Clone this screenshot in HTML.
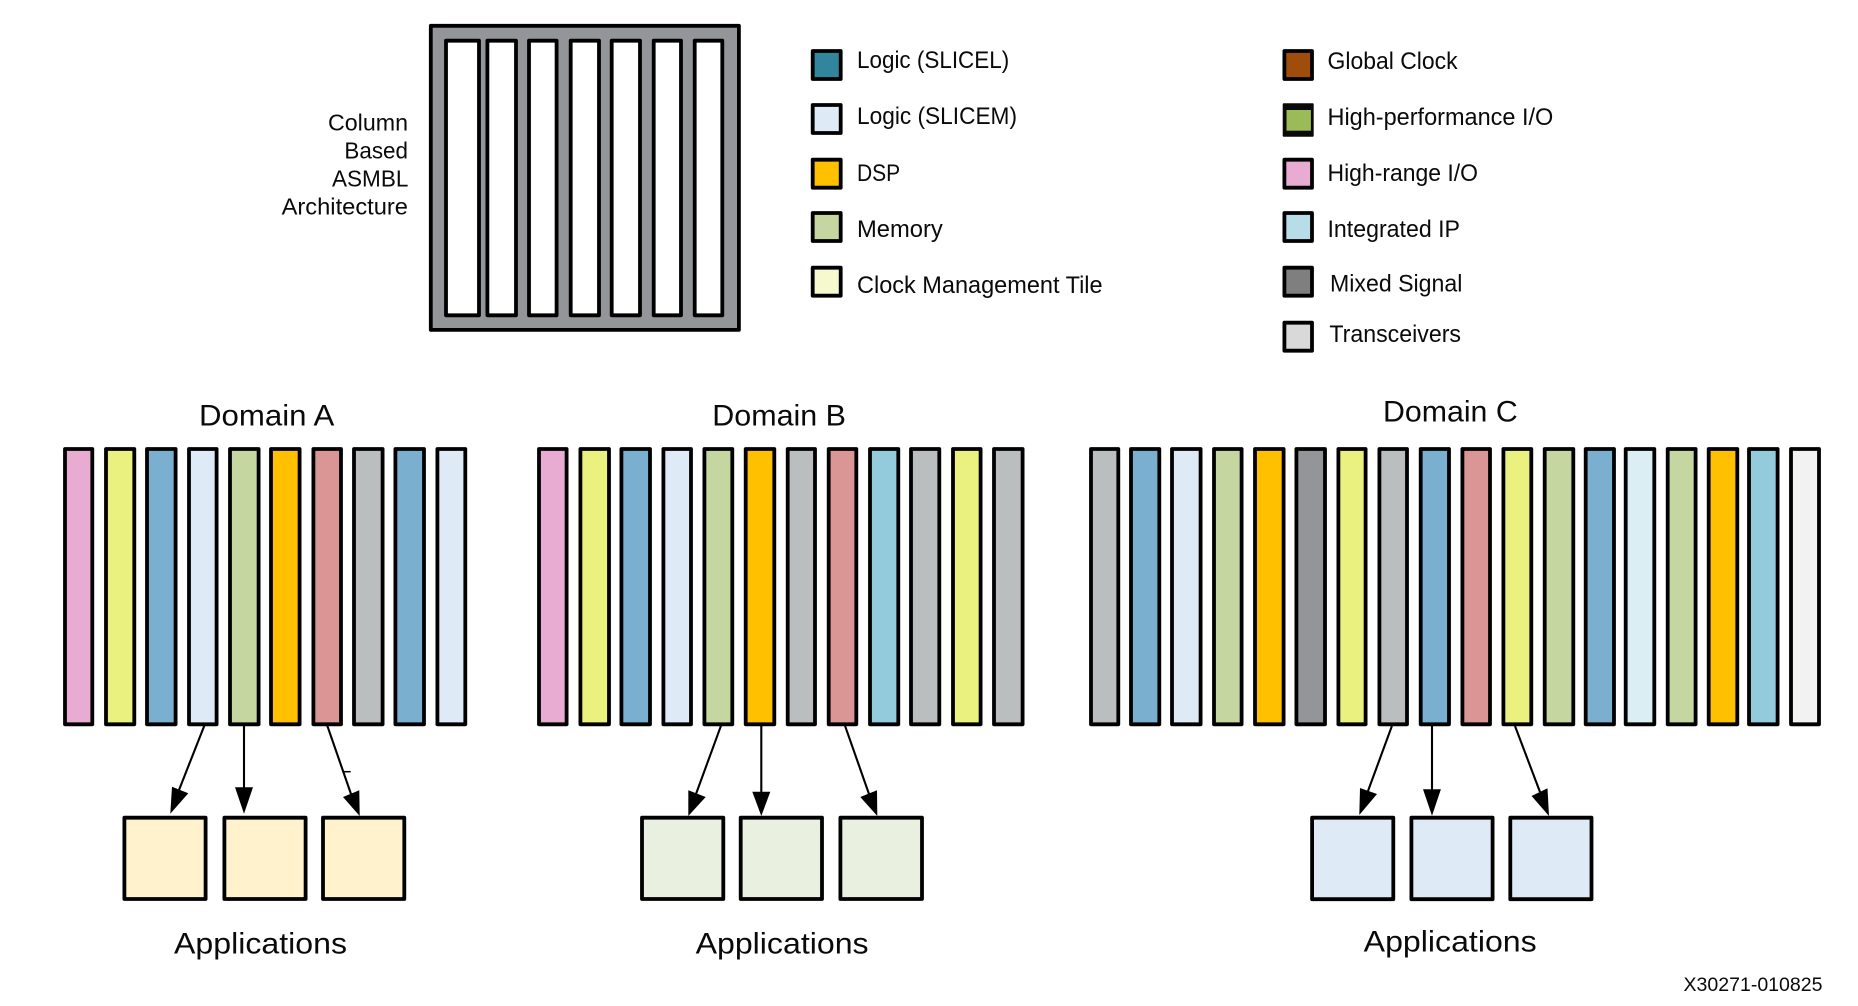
<!DOCTYPE html>
<html lang="en">
<head>
<meta charset="utf-8">
<title>Column Based ASMBL Architecture</title>
<style>
html,body{margin:0;padding:0;background:#fff;width:1858px;height:1006px;overflow:hidden}
svg{display:block}
text{font-family:"Liberation Sans",sans-serif;fill:#0a0a0a}
.b rect{stroke:#000;stroke-width:3.8;stroke-linejoin:round}
.l{stroke:#000;stroke-width:2.1;fill:none}
.t{font-size:24px}
.h{font-size:30px}
</style>
</head>
<body>
<svg width="1858" height="1006" viewBox="0 0 1858 1006" xmlns="http://www.w3.org/2000/svg">
<rect width="1858" height="1006" fill="#fff"/>

<!-- ASMBL block -->
<g class="b">
<rect x="430.8" y="25.8" width="308.1" height="304.1" fill="#939598" style="stroke-width:3.8"/>
<g fill="#fff">
<rect x="446" y="40.7" width="33" height="274.6"/>
<rect x="487.4" y="40.7" width="28.6" height="274.6"/>
<rect x="529" y="40.7" width="27.6" height="274.6"/>
<rect x="570.7" y="40.7" width="28.3" height="274.6"/>
<rect x="611.7" y="40.7" width="28.3" height="274.6"/>
<rect x="653.7" y="40.7" width="27.3" height="274.6"/>
<rect x="694.7" y="40.7" width="27.6" height="274.6"/>
</g>
</g>
<g class="t" style="font-size:23.5px">
<text x="328" y="130.7" textLength="80" lengthAdjust="spacingAndGlyphs">Column</text>
<text x="344.4" y="158.7" textLength="63.6" lengthAdjust="spacingAndGlyphs">Based</text>
<text x="332" y="186.7" textLength="76.4" lengthAdjust="spacingAndGlyphs">ASMBL</text>
<text x="281.6" y="214.7" textLength="126.4" lengthAdjust="spacingAndGlyphs">Architecture</text>
</g>

<!-- Legend left -->
<g class="b">
<rect x="812.7" y="51" width="28" height="28" fill="#31859C"/>
<rect x="812.7" y="105" width="28" height="28" fill="#DEEBF7"/>
<rect x="812.7" y="159.7" width="28" height="28" fill="#FFC000"/>
<rect x="812.7" y="213" width="28" height="28" fill="#C5D6A0"/>
<rect x="812.7" y="267.7" width="28" height="28" fill="#F6F8CE"/>
</g>
<g class="t">
<text x="857" y="68" textLength="152.2" lengthAdjust="spacingAndGlyphs">Logic (SLICEL)</text>
<text x="857" y="124" textLength="160" lengthAdjust="spacingAndGlyphs">Logic (SLICEM)</text>
<text x="857" y="181" textLength="43.2" lengthAdjust="spacingAndGlyphs">DSP</text>
<text x="857" y="237" textLength="85.8" lengthAdjust="spacingAndGlyphs">Memory</text>
<text x="857" y="293" textLength="245.6" lengthAdjust="spacingAndGlyphs">Clock Management Tile</text>
</g>

<!-- Legend right -->
<g class="b">
<rect x="1284.4" y="51" width="27.6" height="28" fill="#A04D0B"/>
<rect x="1284.4" y="159.7" width="27.6" height="28" fill="#E8ABD2"/>
<rect x="1284.4" y="213" width="27.6" height="28" fill="#B7DEE8"/>
<rect x="1284.4" y="267.7" width="27.6" height="28" fill="#7F7F7F"/>
<rect x="1284.4" y="322.7" width="27.6" height="28" fill="#D9D9D9"/>
</g>
<rect x="1282.7" y="103.3" width="31" height="33.4" rx="1" fill="#0a0a0a"/>
<rect x="1286.5" y="110" width="24.4" height="20.7" fill="#9BBB59"/>
<g class="t">
<text x="1327.5" y="69" textLength="130.1" lengthAdjust="spacingAndGlyphs">Global Clock</text>
<text x="1327.5" y="125" textLength="225.8" lengthAdjust="spacingAndGlyphs">High-performance I/O</text>
<text x="1327.5" y="181" textLength="150.5" lengthAdjust="spacingAndGlyphs">High-range I/O</text>
<text x="1327.5" y="236.8" textLength="132.5" lengthAdjust="spacingAndGlyphs">Integrated IP</text>
<text x="1330" y="291.7" textLength="132.4" lengthAdjust="spacingAndGlyphs">Mixed Signal</text>
<text x="1329.4" y="342" textLength="131.6" lengthAdjust="spacingAndGlyphs">Transceivers</text>
</g>

<!-- Titles -->
<g class="h">
<text x="199" y="425.7" textLength="135.3" lengthAdjust="spacingAndGlyphs">Domain A</text>
<text x="712.3" y="425.7" textLength="133.7" lengthAdjust="spacingAndGlyphs">Domain B</text>
<text x="1383" y="421.7" textLength="134.7" lengthAdjust="spacingAndGlyphs">Domain C</text>
<text x="174" y="953.6" textLength="173" lengthAdjust="spacingAndGlyphs">Applications</text>
<text x="695.6" y="953.6" textLength="173" lengthAdjust="spacingAndGlyphs">Applications</text>
<text x="1363.7" y="951.7" textLength="173" lengthAdjust="spacingAndGlyphs">Applications</text>
</g>
<text x="1683.5" y="991" font-size="19" textLength="139" lengthAdjust="spacingAndGlyphs">X30271-010825</text>

<!-- Domain A bars -->
<g class="b">
<rect x="65" y="449" width="27.3" height="275.3" fill="#E8ABD2"/>
<rect x="106" y="449" width="28.3" height="275.3" fill="#EAF17E"/>
<rect x="147" y="449" width="28.6" height="275.3" fill="#7BAFD0"/>
<rect x="189" y="449" width="27.6" height="275.3" fill="#DEEBF7"/>
<rect x="230" y="449" width="28.6" height="275.3" fill="#C5D6A0"/>
<rect x="271" y="449" width="28.6" height="275.3" fill="#FFC000"/>
<rect x="313.4" y="449" width="27.6" height="275.3" fill="#D99694"/>
<rect x="354" y="449" width="28.6" height="275.3" fill="#BABEBE"/>
<rect x="395.4" y="449" width="28.6" height="275.3" fill="#7BAFD0"/>
<rect x="437.4" y="449" width="27.9" height="275.3" fill="#DEEBF7"/>
</g>

<!-- Domain B bars -->
<g class="b">
<rect x="539" y="449" width="27.6" height="275.3" fill="#E8ABD2"/>
<rect x="580.4" y="449" width="28.6" height="275.3" fill="#EAF17E"/>
<rect x="621.4" y="449" width="28.6" height="275.3" fill="#7BAFD0"/>
<rect x="663.4" y="449" width="27.6" height="275.3" fill="#DEEBF7"/>
<rect x="704.4" y="449" width="27.9" height="275.3" fill="#C5D6A0"/>
<rect x="745.7" y="449" width="28.6" height="275.3" fill="#FFC000"/>
<rect x="787.7" y="449" width="27.3" height="275.3" fill="#BABEBE"/>
<rect x="828.7" y="449" width="27.6" height="275.3" fill="#D99694"/>
<rect x="870" y="449" width="28.3" height="275.3" fill="#93CBDD"/>
<rect x="911" y="449" width="28.3" height="275.3" fill="#BABEBE"/>
<rect x="953" y="449" width="27.6" height="275.3" fill="#EAF17E"/>
<rect x="994" y="449" width="28.6" height="275.3" fill="#BABEBE"/>
</g>

<!-- Domain C bars -->
<g class="b">
<rect x="1091" y="449" width="27.3" height="275.3" fill="#BABEBE"/>
<rect x="1131" y="449" width="28.3" height="275.3" fill="#7BAFD0"/>
<rect x="1172" y="449" width="28.6" height="275.3" fill="#DEEBF7"/>
<rect x="1214" y="449" width="27.6" height="275.3" fill="#C5D6A0"/>
<rect x="1255" y="449" width="28.6" height="275.3" fill="#FFC000"/>
<rect x="1296.4" y="449" width="28.6" height="275.3" fill="#939598"/>
<rect x="1338.4" y="449" width="27.2" height="275.3" fill="#EAF17E"/>
<rect x="1379.4" y="449" width="27.6" height="275.3" fill="#BABEBE"/>
<rect x="1420.7" y="449" width="28.3" height="275.3" fill="#7BAFD0"/>
<rect x="1462.4" y="449" width="27.6" height="275.3" fill="#D99694"/>
<rect x="1503.4" y="449" width="27.9" height="275.3" fill="#EAF17E"/>
<rect x="1544.7" y="449" width="28.6" height="275.3" fill="#C5D6A0"/>
<rect x="1585.7" y="449" width="28.3" height="275.3" fill="#7BAFD0"/>
<rect x="1625.7" y="449" width="28.6" height="275.3" fill="#DBEEF4"/>
<rect x="1667.7" y="449" width="27.9" height="275.3" fill="#C5D6A0"/>
<rect x="1708.7" y="449" width="28.6" height="275.3" fill="#FFC000"/>
<rect x="1749" y="449" width="28.6" height="275.3" fill="#93CBDD"/>
<rect x="1791" y="449" width="28" height="275.3" fill="#F2F2F2"/>
</g>

<!-- Application boxes -->
<g class="b">
<rect x="124.4" y="817.7" width="81.2" height="81.3" fill="#FFF2CC"/>
<rect x="224.4" y="817.7" width="81.2" height="81.3" fill="#FFF2CC"/>
<rect x="323" y="817.7" width="81.3" height="81.3" fill="#FFF2CC"/>
<rect x="642" y="817.7" width="81.3" height="81.3" fill="#EAF0DF"/>
<rect x="740.7" y="817.7" width="81.3" height="81.3" fill="#EAF0DF"/>
<rect x="840.4" y="817.7" width="81.6" height="81.3" fill="#EAF0DF"/>
<rect x="1312.1" y="817.7" width="81.2" height="81.5" fill="#DEEBF7"/>
<rect x="1411.4" y="817.7" width="81.2" height="81.5" fill="#DEEBF7"/>
<rect x="1510.3" y="817.7" width="81.2" height="81.5" fill="#DEEBF7"/>
</g>

<!-- Arrows -->
<g>
<line class="l" x1="204.3" y1="725.7" x2="179" y2="790"/>
<polygon points="170.3,813.7 172,786.7 188.3,793.3"/>
<line class="l" x1="244" y1="725.7" x2="244" y2="790"/>
<polygon points="244,813.7 235,787.3 253,787.3"/>
<line class="l" x1="327.3" y1="725.7" x2="351" y2="794"/>
<polygon points="359.7,816 343,797 359.3,790.3"/>
<line class="l" x1="343.3" y1="771.7" x2="350.7" y2="771.7" style="stroke-width:1.5"/>

<line class="l" x1="721" y1="725.7" x2="696" y2="794"/>
<polygon points="688.3,816 688.3,790.3 705.7,797"/>
<line class="l" x1="761.3" y1="725.7" x2="761.3" y2="794"/>
<polygon points="761.3,816 752.3,791.7 770.3,791.7"/>
<line class="l" x1="845" y1="725.7" x2="869" y2="794"/>
<polygon points="877.3,816 860.3,797 877,790.3"/>

<line class="l" x1="1391.9" y1="726" x2="1368" y2="791"/>
<polygon points="1359.3,815 1360,788 1377,794"/>
<line class="l" x1="1432" y1="726" x2="1432" y2="792"/>
<polygon points="1432,815.7 1423,789.3 1440.9,789.3"/>
<line class="l" x1="1515" y1="726" x2="1540" y2="792"/>
<polygon points="1549,816 1531.6,796 1547.5,788.3"/>
</g>
</svg>
</body>
</html>
